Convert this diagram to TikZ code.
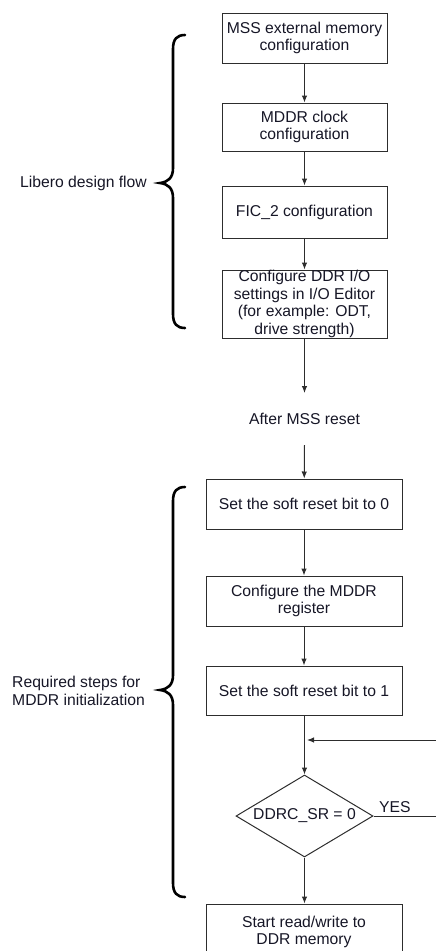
\documentclass[tikz,border=0pt]{standalone}
\usepackage{fontspec}
\setmainfont{Liberation Sans}
\usetikzlibrary{arrows.meta,shapes.geometric}
\definecolor{ink}{RGB}{22,22,38}
\definecolor{rule}{RGB}{45,45,45}
\begin{document}
\begin{tikzpicture}[x=1pt,y=-1pt,
  every node/.style={text=ink,font=\fontsize{15.7}{17.5}\selectfont},
  box/.style={draw=rule,line width=1pt,rectangle,align=center,inner sep=0pt},
  topbox/.style={box,minimum width=165pt},
  lowbox/.style={box,minimum width=196pt},
  decision/.style={draw=rule,line width=1pt,diamond,aspect=1.67,inner sep=0pt,minimum width=137pt,minimum height=82pt},
  flow/.style={draw=rule,line width=1pt,-{Latex[length=7pt,width=5.5pt]}},
  plain/.style={draw=rule,line width=1pt},
  brace/.style={draw=black,line width=2.6pt,line cap=round}]
\useasboundingbox (0,0) rectangle (436,951);
\clip (0,0) rectangle (436,951);

% Libero design flow
\node[topbox,minimum height=50pt] (b1) at (304.5,38) {MSS external memory\\configuration};
\node[topbox,minimum height=48pt] (b2) at (304.5,127) {MDDR clock\\configuration};
\node[topbox,minimum height=52pt] (b3) at (304.5,212) {FIC\_2 configuration};
\node[topbox,minimum height=68pt] (b4) at (304.5,304) {Configure DDR I/O\\settings in I/O Editor\\(for example: ODT,\\drive strength)};

\coordinate (resetin) at (304.5,393);
\node (reset) at (304.5,419) {After MSS reset};
\coordinate (resetout) at (304.5,445);

% MDDR initialization
\node[lowbox,minimum height=50pt] (b5) at (304,504) {Set the soft reset bit to 0};
\node[lowbox,minimum height=50pt] (b6) at (304,601) {Configure the MDDR\\register};
\node[lowbox,minimum height=49pt] (b7) at (304,690.5) {Set the soft reset bit to 1};
\node[decision] (dec) at (304.5,816) {DDRC\_SR = 0};
\node[lowbox,minimum height=56pt] (b8) at (304,932) {Start read/write to\\DDR memory};

\draw[flow] (b1) -- (b2);
\draw[flow] (b2) -- (b3);
\draw[flow] (b3) -- (b4);
\draw[flow] (b4) -- (resetin);
\draw[flow] (resetout) -- (b5);
\draw[flow] (b5) -- (b6);
\draw[flow] (b6.south -| b7.north) -- (b7);
\draw[flow] (b7.south -| dec.north) -- (dec.north);
\draw[flow] (dec) -- (b8.north -| dec.south);

% loop back and YES exit
\coordinate (loopin) at (436,740);
\coordinate (loopend) at (307,740);
\draw[flow] (loopin) -- (loopend);
\coordinate (yesout) at (436,816);
\draw[plain] (dec.east) -- (yesout);
\node[anchor=south west,inner sep=0pt] (yes) at (379,813) {YES};

% braces
\draw[brace] (185,35) .. controls (177,35) and (173,39) .. (173,49) -- (173,168)
  .. controls (173,178) and (168,182) .. (160,183)
  .. controls (168,184) and (173,188) .. (173,198) -- (173,314)
  .. controls (173,324) and (177,328) .. (185,328);
\node[anchor=east,inner sep=0pt] (libero) at (147,183) {Libero design flow};

\draw[brace] (185,487) .. controls (177,487) and (173,491) .. (173,501) -- (173,675)
  .. controls (173,685) and (168,689) .. (160,690)
  .. controls (168,691) and (173,695) .. (173,705) -- (173,883)
  .. controls (173,893) and (177,897) .. (185,897);
\node[anchor=west,align=left,inner sep=0pt] (mddr) at (12,691) {Required steps for\\MDDR initialization};
\end{tikzpicture}
\end{document}
